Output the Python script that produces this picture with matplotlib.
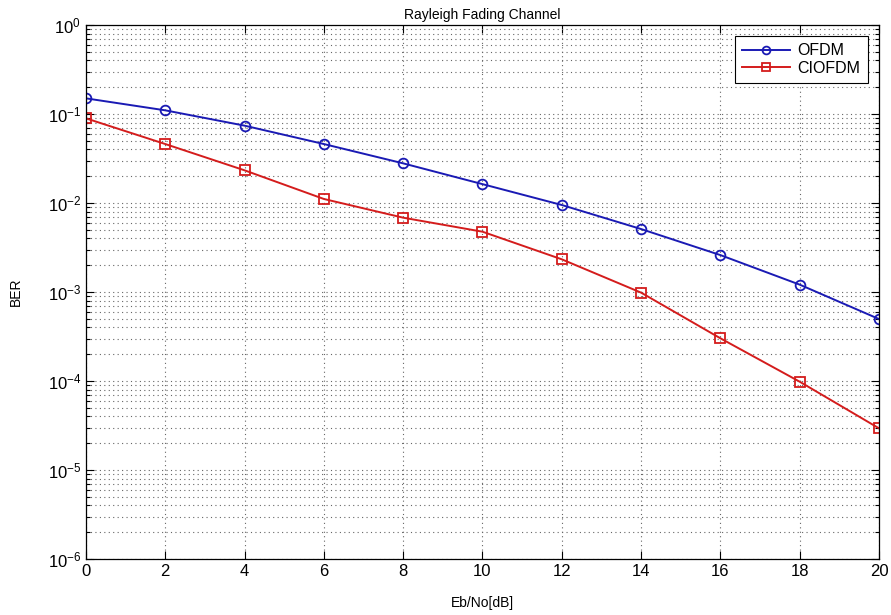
import numpy as np
import matplotlib.pyplot as plt
from matplotlib.ticker import LogLocator, NullFormatter

plt.rcParams['font.family'] = ['Liberation Sans', 'DejaVu Sans']

# SNR points and measured bit error rates
ebno_db = [0, 2, 4, 6, 8, 10, 12, 14, 16, 18, 20]
ber_ofdm = [0.150, 0.110, 0.074, 0.046, 0.0279, 0.0163, 0.0095,
            0.0051, 0.0026, 0.00121, 0.000497]
ber_ciofdm = [0.0894, 0.046, 0.0233, 0.0111, 0.00684, 0.00476, 0.00233,
              0.000984, 0.000302, 0.0000982, 0.0000294]

fig = plt.figure(figsize=(8.91, 6.15), dpi=100)
ax = fig.add_axes([0.0965, 0.0911, 0.89, 0.8682])

ax.semilogy(ebno_db, ber_ofdm, '-o', color='#1a1ab4', lw=1.4, ms=7,
            mfc='none', mew=1.3, label='OFDM')
ax.semilogy(ebno_db, ber_ciofdm, '-s', color='#d41c1c', lw=1.4, ms=7,
            mfc='none', mew=1.3, label='CIOFDM')

ax.set_xlim(0, 20)
ax.set_ylim(1e-6, 1)
ax.set_xticks(range(0, 21, 2))
ax.yaxis.set_major_locator(LogLocator(base=10, numticks=10))
ax.yaxis.set_minor_locator(LogLocator(base=10, subs=np.arange(2, 10), numticks=100))
ax.yaxis.set_minor_formatter(NullFormatter())

ax.grid(True, which='major', linestyle=(0, (1, 3)), color='#666666', lw=0.8)
ax.grid(True, which='minor', axis='y', linestyle=(0, (1, 3)), color='#666666', lw=0.8)

ax.tick_params(which='both', direction='in', top=True, right=True,
               labelsize=12, width=0.8)
ax.tick_params(which='major', length=6)
ax.tick_params(which='minor', length=3)
for sp in ax.spines.values():
    sp.set_linewidth(0.9)

ax.set_title('Rayleigh Fading Channel', fontsize=10, pad=4)
ax.set_xlabel('Eb/No[dB]', fontsize=10, labelpad=12)
ax.set_ylabel('BER', fontsize=10, labelpad=18)

leg = ax.legend(loc='upper right', fontsize=11.5, fancybox=False,
                edgecolor='black', framealpha=1, borderaxespad=0.7,
                handlelength=3.0, handletextpad=0.5, borderpad=0.45,
                labelspacing=0.15, markerscale=0.8)
leg.get_frame().set_linewidth(0.8)

fig.savefig('out.png', dpi=100)
